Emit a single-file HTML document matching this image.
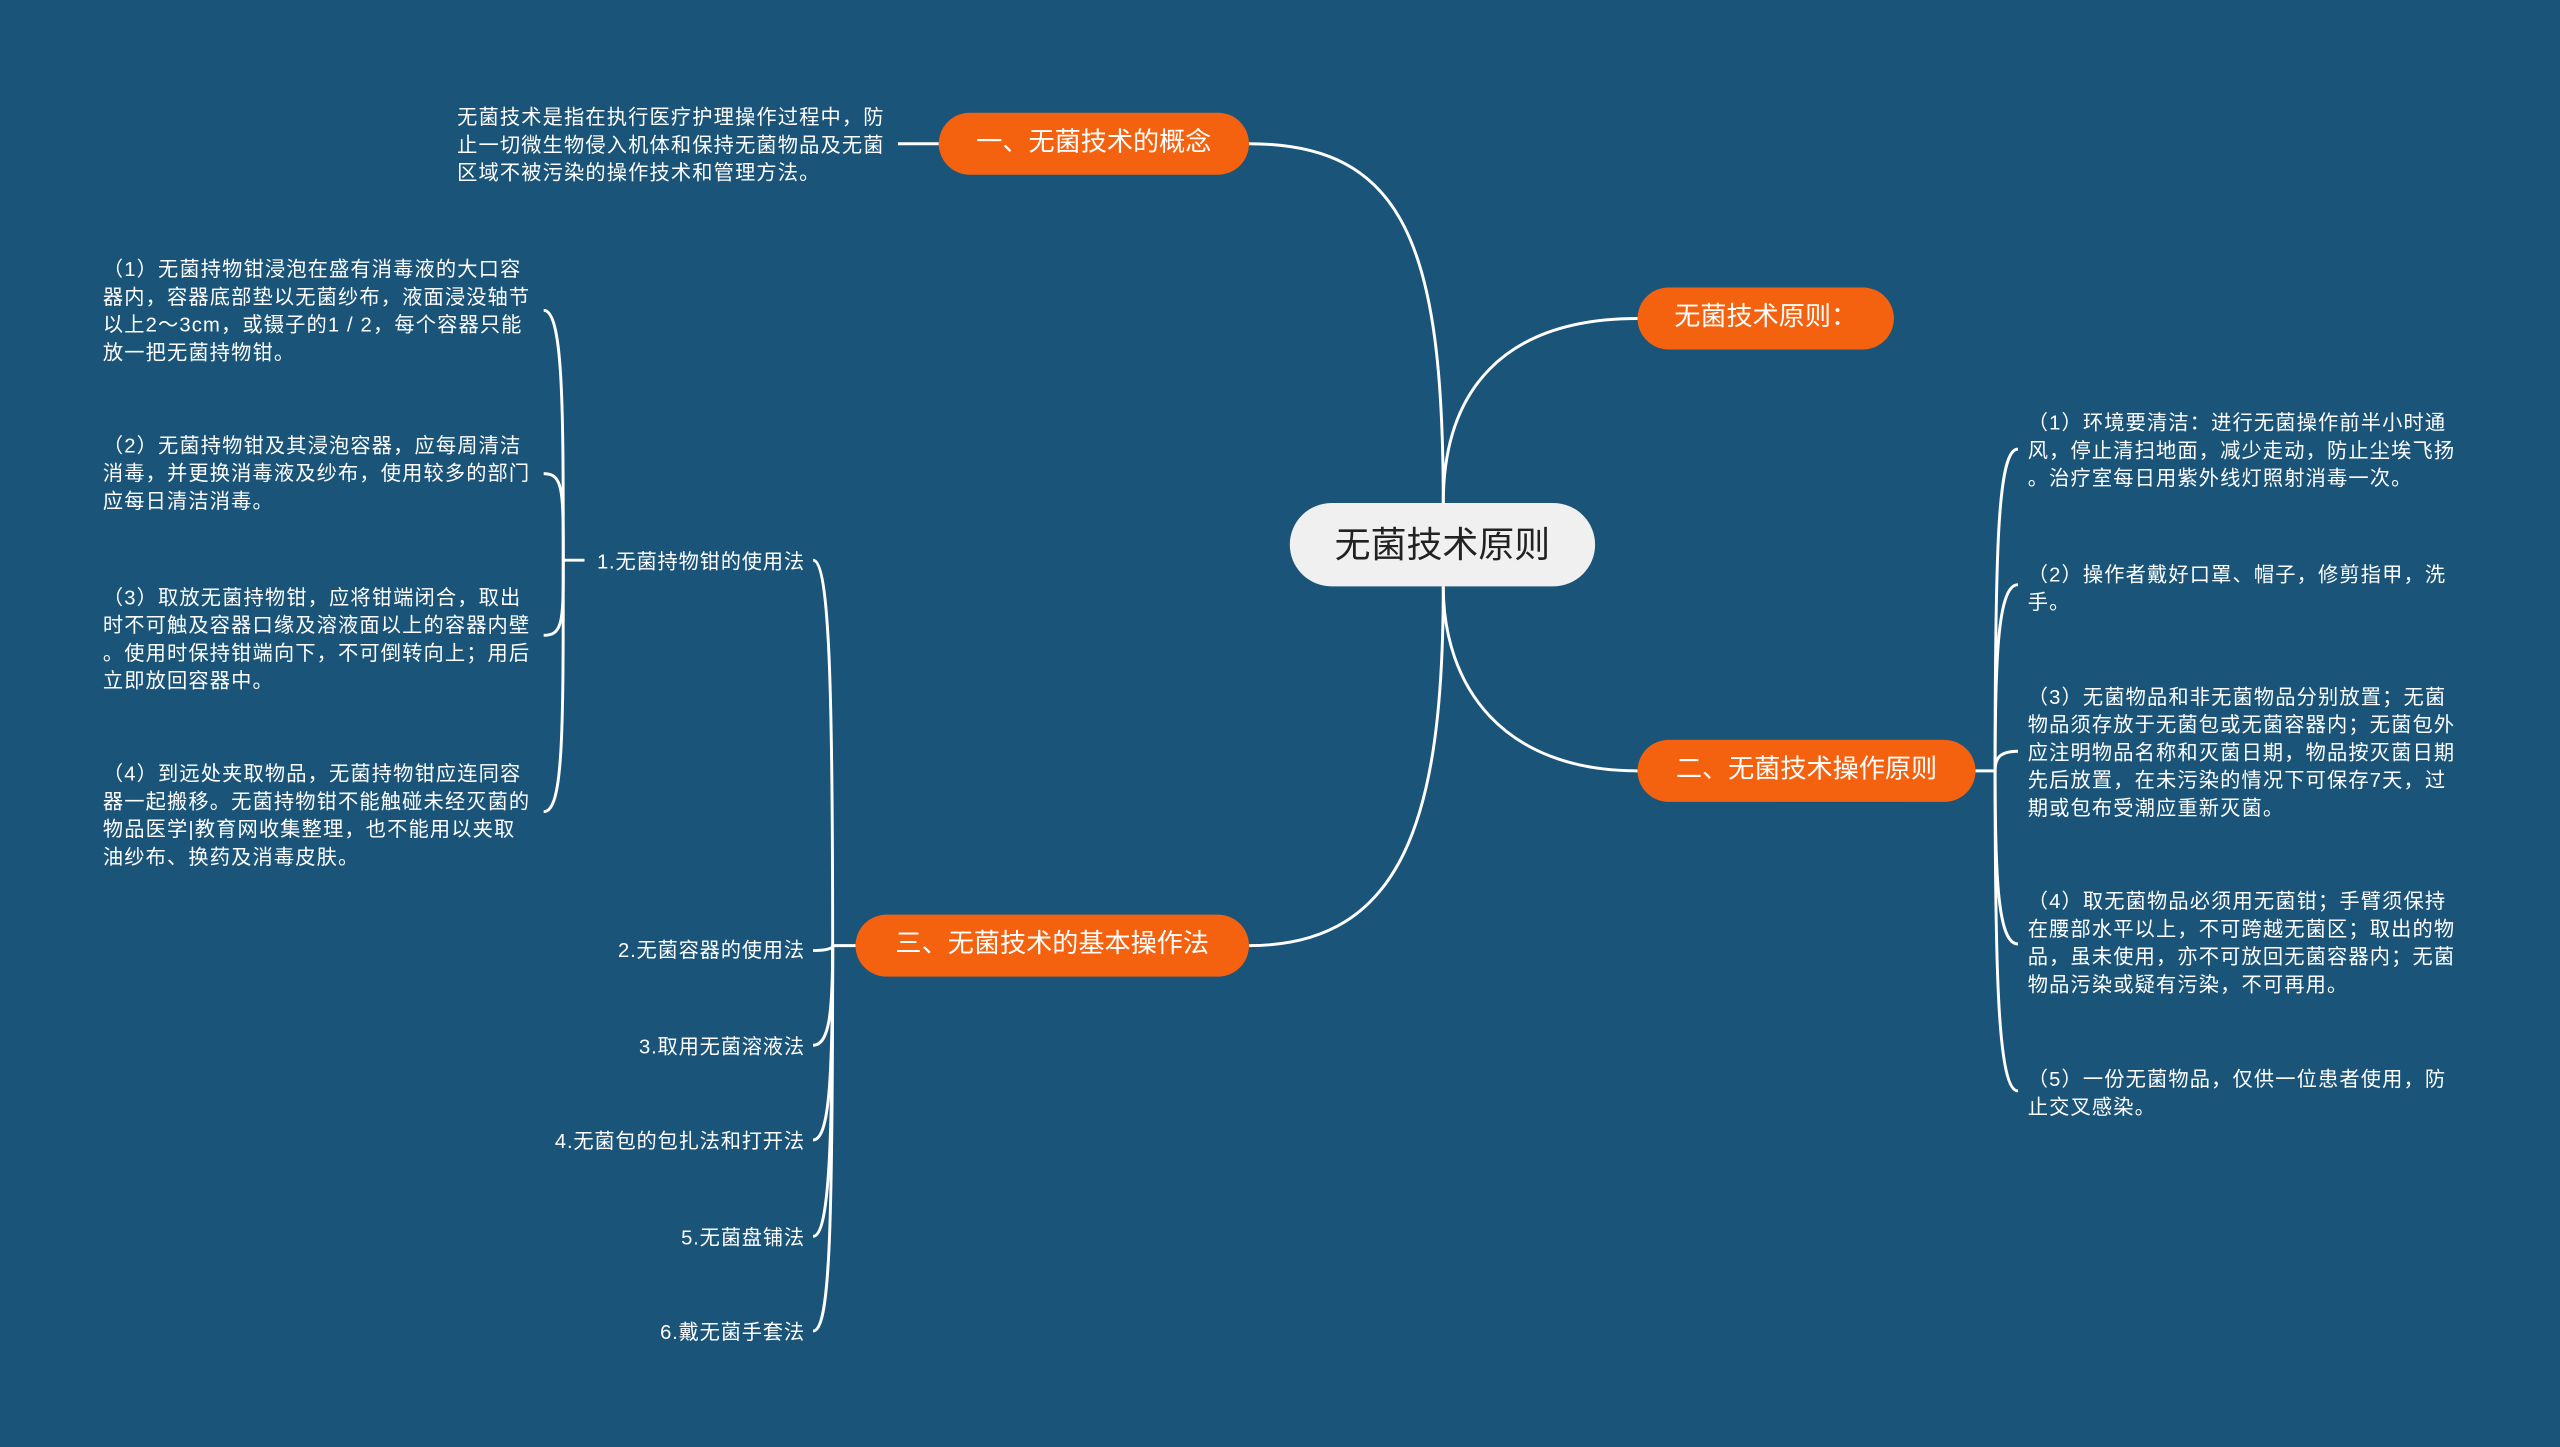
<!DOCTYPE html>
<html><head><meta charset="utf-8"><style>
html,body{margin:0;padding:0;background:#1a5479;overflow:hidden;width:2560px;height:1447px}
#w{position:absolute;left:0;top:0;width:1568px;height:886px;transform:scale(1.632653,1.633183);transform-origin:0 0;font-family:"Liberation Sans","Noto Sans CJK SC",sans-serif;color:#fff}
.n{position:absolute;box-sizing:border-box;background:#f5620f;border-radius:19px;height:38px;line-height:38px;text-align:center;font-size:16px;color:#fff;white-space:nowrap}
.t{position:absolute;font-size:12.4px;line-height:17px;white-space:nowrap;color:#fff;letter-spacing:0.7px}
.r{text-align:right;letter-spacing:0.5px}
svg{position:absolute;left:0;top:0}
</style></head><body><div id="w">
<svg width="1568" height="886" fill="none" stroke="#fff" stroke-width="1.8">
<path d="M884 308 C884 150 860 88 765 88"/>
<path d="M884 308 C884 240 920 195 1003 195"/>
<path d="M884 359 C884 420 920 472 1003 472"/>
<path d="M884 359 C884 500 860 579 765 579"/>
<path d="M550 88 H575"/>
<path d="M524 579 H510"/>
<path d="M510 579 C510 420 508 343 498 343"/>
<path d="M510 579 C510 581 505 582 498 582"/>
<path d="M510 579 C510 620 508 640 498 640"/>
<path d="M510 579 C510 660 508 698 498 698"/>
<path d="M510 579 C510 700 508 757 498 757"/>
<path d="M510 579 C510 760 508 815 498 815"/>
<path d="M358 343 H345"/>
<path d="M345 343 C345 250 345 190 333 190"/>
<path d="M345 343 C345 300 345 290 333 290"/>
<path d="M345 343 C345 380 345 389 333 389"/>
<path d="M345 343 C345 450 345 497 333 497"/>
<path d="M1210 472 H1222"/>
<path d="M1222 472 C1222 330 1224 275 1236 275"/>
<path d="M1222 472 C1222 400 1224 358 1236 358"/>
<path d="M1222 472 C1222 465 1224 460 1236 460"/>
<path d="M1222 472 C1222 540 1224 578 1236 578"/>
<path d="M1222 472 C1222 600 1224 668 1236 668"/>
</svg>
<div style="position:absolute;left:790px;top:308px;width:187px;height:51px;border-radius:26px;background:#f0f0f0;color:#222;font-size:22px;line-height:51px;text-align:center">无菌技术原则</div>
<div class="n" style="left:575px;top:69px;width:190px">一、无菌技术的概念</div>
<div class="n" style="left:1003px;top:176px;width:157px">无菌技术原则：</div>
<div class="n" style="left:1003px;top:453px;width:207px">二、无菌技术操作原则</div>
<div class="n" style="left:524px;top:560px;width:241px">三、无菌技术的基本操作法</div>
<div class="t" style="left:280px;top:64px">无菌技术是指在执行医疗护理操作过程中，防<br>止一切微生物侵入机体和保持无菌物品及无菌<br>区域不被污染的操作技术和管理方法。</div>
<div class="t r" style="right:1075px;top:336px">1.无菌持物钳的使用法</div>
<div class="t r" style="right:1075px;top:574px">2.无菌容器的使用法</div>
<div class="t r" style="right:1075px;top:633px">3.取用无菌溶液法</div>
<div class="t r" style="right:1075px;top:691px">4.无菌包的包扎法和打开法</div>
<div class="t r" style="right:1075px;top:750px">5.无菌盘铺法</div>
<div class="t r" style="right:1075px;top:808px">6.戴无菌手套法</div>
<div class="t" style="left:63px;top:157px">（1）无菌持物钳浸泡在盛有消毒液的大口容<br>器内，容器底部垫以无菌纱布，液面浸没轴节<br>以上2～3cm，或镊子的1 / 2，每个容器只能<br>放一把无菌持物钳。</div>
<div class="t" style="left:63px;top:265px">（2）无菌持物钳及其浸泡容器，应每周清洁<br>消毒，并更换消毒液及纱布，使用较多的部门<br>应每日清洁消毒。</div>
<div class="t" style="left:63px;top:358px">（3）取放无菌持物钳，应将钳端闭合，取出<br>时不可触及容器口缘及溶液面以上的容器内壁<br>。使用时保持钳端向下，不可倒转向上；用后<br>立即放回容器中。</div>
<div class="t" style="left:63px;top:466px">（4）到远处夹取物品，无菌持物钳应连同容<br>器一起搬移。无菌持物钳不能触碰未经灭菌的<br>物品医学|教育网收集整理，也不能用以夹取<br>油纱布、换药及消毒皮肤。</div>
<div class="t" style="left:1242px;top:251px">（1）环境要清洁：进行无菌操作前半小时通<br>风，停止清扫地面，减少走动，防止尘埃飞扬<br>。治疗室每日用紫外线灯照射消毒一次。</div>
<div class="t" style="left:1242px;top:344px">（2）操作者戴好口罩、帽子，修剪指甲，洗<br>手。</div>
<div class="t" style="left:1242px;top:419px">（3）无菌物品和非无菌物品分别放置；无菌<br>物品须存放于无菌包或无菌容器内；无菌包外<br>应注明物品名称和灭菌日期，物品按灭菌日期<br>先后放置，在未污染的情况下可保存7天，过<br>期或包布受潮应重新灭菌。</div>
<div class="t" style="left:1242px;top:544px">（4）取无菌物品必须用无菌钳；手臂须保持<br>在腰部水平以上，不可跨越无菌区；取出的物<br>品，虽未使用，亦不可放回无菌容器内；无菌<br>物品污染或疑有污染，不可再用。</div>
<div class="t" style="left:1242px;top:653px">（5）一份无菌物品，仅供一位患者使用，防<br>止交叉感染。</div>
</div></body></html>
